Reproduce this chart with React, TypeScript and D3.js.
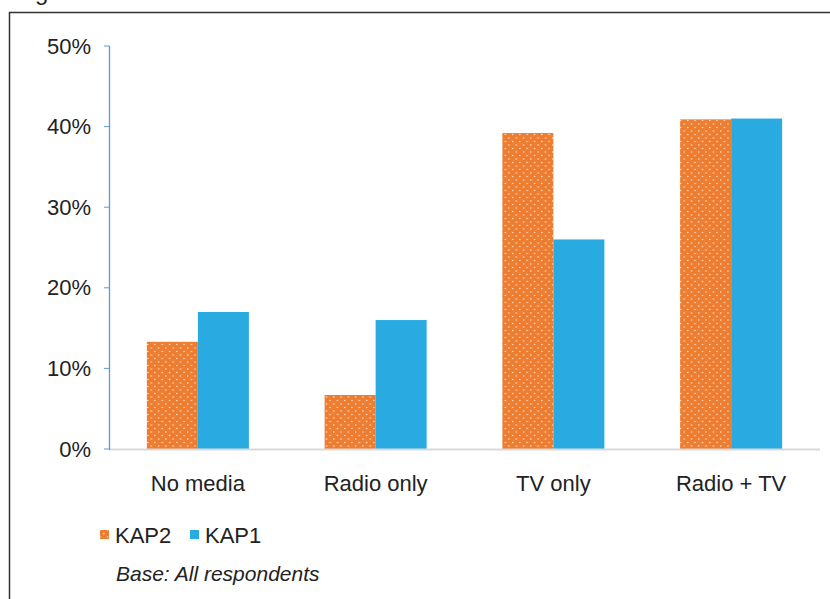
import React from "react";
import * as d3 from "d3";

const categories = ["No media", "Radio only", "TV only", "Radio + TV"];
const kap2 = [13.3, 6.7, 39.2, 40.9];
const kap1 = [17.0, 16.0, 26.0, 41.0];
const yTicks = [0, 10, 20, 30, 40, 50];
const seriesNames = ["KAP2", "KAP1"];

const W = 830;
const H = 599;

export default function App() {
  const x0 = d3.scaleBand<string>().domain(categories).range([109, 820]).paddingInner(0.426).paddingOuter(0.213);
  const x1 = d3.scaleBand<string>().domain(seriesNames).range([0, x0.bandwidth()]);
  const y = d3.scaleLinear().domain([0, 50]).range([449, 46]);
  const series = [
    { name: "KAP2", values: kap2, fill: "url(#dots)" },
    { name: "KAP1", values: kap1, fill: "#29ABE2" },
  ];
  const font = "Arial, 'Liberation Sans', sans-serif";
  return (
    <div style={{ position: "absolute", left: 0, top: 0 }}>
      <svg width={W} height={H} style={{ display: "block", fontFamily: font }}>
        <defs>
          <pattern id="dots" patternUnits="userSpaceOnUse" width={7.3} height={7} x={0} y={0}>
            <rect width={7.3} height={7} fill="#ED7D31" />
            <circle cx={1.6} cy={1.5} r={0.8} fill="#FFE3CF" />
            <circle cx={5.25} cy={5} r={0.8} fill="#FFE3CF" />
          </pattern>
        </defs>
        <rect width={W} height={H} fill="#fff" />
        <text x={15} y={0} fontSize={24} fill="#222">Figure</text>
        <path d={`M9.5,${H + 2}V12.5H${W + 2}`} fill="none" stroke="#333" strokeWidth={1.5} />
        {categories.map((c, i) =>
          series.map((s) => (
            <rect
              key={c + s.name}
              x={(x0(c) ?? 0) + (x1(s.name) ?? 0)}
              y={y(s.values[i])}
              width={x1.bandwidth()}
              height={y(0) - y(s.values[i])}
              fill={s.fill}
            />
          ))
        )}
        <line x1={109} x2={820} y1={y(0) + 0.5} y2={y(0) + 0.5} stroke="#D9D9D9" strokeWidth={2} />
        <line x1={109.5} x2={109.5} y1={y(50)} y2={y(0) + 1} stroke="#5B9BD5" strokeWidth={1.3} />
        {yTicks.map((t) => (
          <g key={t}>
            <line x1={104} x2={109.5} y1={y(t)} y2={y(t)} stroke="#5B9BD5" strokeWidth={1} />
            <text x={91} y={y(t) + 7.5} textAnchor="end" fontSize={22} fill="#222">
              {t}%
            </text>
          </g>
        ))}
        {categories.map((c) => (
          <text key={c} x={(x0(c) ?? 0) + x0.bandwidth() / 2} y={491} textAnchor="middle" fontSize={22} fill="#222">
            {c}
          </text>
        ))}
        <rect x={100} y={530} width={9} height={9} fill="url(#dots)" />
        <text x={115} y={543} fontSize={22} fill="#222">KAP2</text>
        <rect x={190} y={530} width={9} height={9} fill="#29ABE2" />
        <text x={205} y={543} fontSize={22} fill="#222">KAP1</text>
        <text x={116} y={581} fontSize={21} fontStyle="italic" fill="#222">Base: All respondents</text>
      </svg>
    </div>
  );
}
